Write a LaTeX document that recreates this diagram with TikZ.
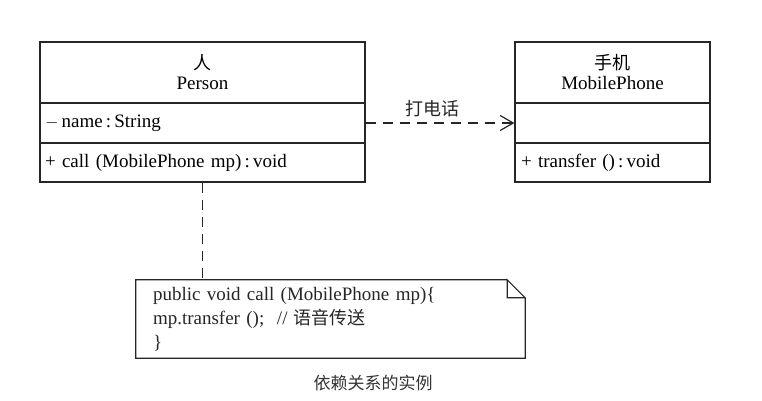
\documentclass[tikz,border=0pt]{standalone}
\usepackage{fontspec}
\setmainfont{Liberation Serif}
\newfontfamily\cjk{Noto Sans CJK SC}
\usetikzlibrary{arrows.meta}

\tikzset{
  umlbox/.style={draw=black!85, line width=1.2pt, rectangle, inner sep=0pt,
    font=\fontsize{19}{20}\selectfont},
  umlhead/.style={umlbox, align=center},
  umlrow/.style={umlbox, align=left, anchor=center},
  depline/.style={draw=black!85, line width=1.2pt, dash pattern=on 10pt off 7pt},
}

\begin{document}
\begin{tikzpicture}[x=1pt, y=-1pt]
    \useasboundingbox (0, 0) rectangle (762, 400);
    % Person
    \node[umlhead, minimum width=325, minimum height=61] (personhead) at (202.5, 72.5) {{\cjk\fontsize{18}{20}\selectfont 人}\\Person};
    \node[umlrow, minimum width=325, minimum height=40, text width=315, inner xsep=5] (personattr) at (202.5, 123) {$-$\,name\,:\,String};
    \node[umlrow, minimum width=325, minimum height=39, text width=315, inner xsep=5] (personop) at (202.5, 162.5) {+ call (MobilePhone mp)\,:\,void};
    % MobilePhone
    \node[umlhead, minimum width=195, minimum height=61] (phonehead) at (612.5, 72.5) {{\cjk\fontsize{18}{20}\selectfont 手机}\\MobilePhone};
    \node[umlrow, minimum width=195, minimum height=40, text width=183, inner xsep=6] (phoneattr) at (612.5, 123) {};
    \node[umlrow, minimum width=195, minimum height=39, text width=183, inner xsep=6] (phoneop) at (612.5, 162.5) {+ transfer ()\,:\,void};
    % dependency
    \draw[depline, -{Straight Barb[length=13pt, width=15pt]}] (personattr.east) -- (phoneattr.west)
        node[pos=0.45, above=2pt, font=\cjk\fontsize{18}{20}\selectfont, text=black!85] (calllabel) {打电话};
    % note
    \node[inner sep=0pt, minimum width=389, minimum height=78, text width=355, inner xsep=17,
          align=left, font=\fontsize{19}{24}\selectfont, text=black!85] (note) at (330.5, 319)
          {public void call (MobilePhone mp)\{\\mp.transfer ();\ \ // {\cjk\fontsize{18}{24}\selectfont 语音传送}\\\}};
    \draw[draw=black!85, line width=1.2pt] ([xshift=-18pt]note.north east) -- (note.north west)
        -- (note.south west) -- (note.south east) -- ([yshift=-18pt]note.north east)
        -- ([xshift=-18pt]note.north east) -- ([xshift=-18pt, yshift=-18pt]note.north east)
        -- ([yshift=-18pt]note.north east);
    \draw[depline] (personop.south) -- (personop.south |- note.north);
    % caption
    \node[font=\cjk\fontsize{17}{20}\selectfont, text=black!80] (caption) at (373, 383) {依赖关系的实例};
\end{tikzpicture}
\end{document}
